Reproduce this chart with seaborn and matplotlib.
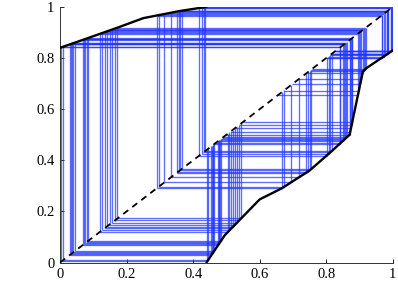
import numpy as np
import pandas as pd
import matplotlib
matplotlib.use("Agg")
import matplotlib.pyplot as plt
import seaborn as sns

# ---- map (black curve) ----
left_branch_x = [0.0, 0.075, 0.175, 0.25, 0.36, 0.44]
left_branch_y = [0.84, 0.874, 0.92, 0.956, 0.984, 1.0]
right_branch_x = [0.44, 0.495, 0.6, 0.666, 0.75, 0.82, 0.87, 0.91, 0.92, 1.0]
right_branch_y = [0.0, 0.107, 0.247, 0.29, 0.36, 0.44, 0.50, 0.747, 0.76, 0.83]
diag = [0.0, 1.0]

# ---- orbit points (positions of the cobweb's vertical lines) ----
orbit_low = [0.004, 0.008, 0.030, 0.033, 0.036, 0.040, 0.044, 0.068, 0.072, 0.076,
             0.080, 0.084, 0.119, 0.126, 0.134, 0.141, 0.149, 0.156, 0.164, 0.172,
             0.290, 0.296, 0.313, 0.333, 0.352, 0.356, 0.361, 0.366, 0.418, 0.425,
             0.431, 0.436]
orbit_mid = [0.443, 0.445, 0.455, 0.457, 0.459, 0.461, 0.463, 0.475, 0.477, 0.479,
             0.481, 0.483, 0.504, 0.509, 0.515, 0.520, 0.526, 0.532, 0.538, 0.544,
             0.666, 0.673, 0.694, 0.718, 0.740, 0.745, 0.751, 0.755, 0.801, 0.807,
             0.812, 0.817]
orbit_high = [0.840, 0.842, 0.851, 0.854, 0.857, 0.859, 0.861, 0.870, 0.872, 0.874,
              0.876, 0.878, 0.895, 0.898, 0.902, 0.905, 0.909, 0.912, 0.915, 0.918,
              0.966, 0.968, 0.972, 0.977, 0.982, 0.983, 0.984, 0.985, 0.995, 0.996,
              0.998, 0.999]

tick_vals = [0, 0.2, 0.4, 0.6, 0.8, 1]
tick_labels = ["0", "0.2", "0.4", "0.6", "0.8", "1"]

sns.set_style("ticks")
plt.rcParams['font.family'] = ['Liberation Serif', 'DejaVu Serif']

fig = plt.figure(figsize=(3.98, 3.0), dpi=100)
ax = fig.add_axes([0.151, 0.125, 0.836, 0.852])


def fmap(p):
    if p < left_branch_x[-1]:
        return float(np.interp(p, left_branch_x, left_branch_y))
    return float(np.interp(p, right_branch_x, right_branch_y))


blue = "#2236ff"
pts = orbit_low + orbit_mid + orbit_high
for p in pts:
    fp = fmap(p)
    ax.vlines(p, min(p, fp), max(p, fp), color=blue, alpha=0.72, lw=0.95, zorder=2)
    ax.hlines(fp, min(p, fp), max(p, fp), color=blue, alpha=0.72, lw=0.95, zorder=2)

sns.lineplot(x=diag, y=diag, ax=ax, color="black", lw=1.3, dashes=False,
             linestyle=(0, (3.5, 2.8)), zorder=3)
sns.lineplot(x=left_branch_x, y=left_branch_y, ax=ax, color="black", lw=1.7,
             sort=False, estimator=None, zorder=4)
sns.lineplot(x=right_branch_x, y=right_branch_y, ax=ax, color="black", lw=1.7,
             sort=False, estimator=None, zorder=4)

ax.set_xlim(0, 1)
ax.set_ylim(0, 1)
ax.set_xticks(tick_vals)
ax.set_xticklabels(tick_labels)
ax.set_yticks(tick_vals)
ax.set_yticklabels(tick_labels)
ax.tick_params(direction="in", length=3, width=0.6, labelsize=10.5, pad=4,
               colors="black")
sns.despine(ax=ax)
for s in ["left", "bottom"]:
    ax.spines[s].set_linewidth(0.7)
    ax.spines[s].set_color("#333333")

fig.savefig("out.png", dpi=100)
